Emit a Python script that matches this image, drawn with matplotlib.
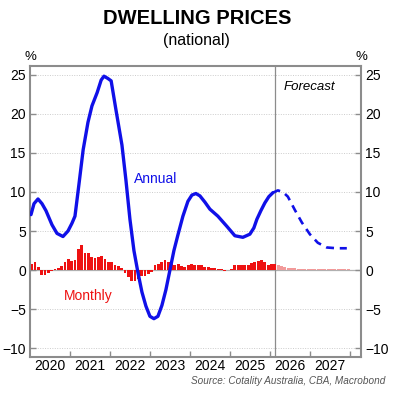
import numpy as np
import matplotlib
matplotlib.use("Agg")
import matplotlib.pyplot as plt

# annual growth, % (fractional year, value)
annual_x = [2020.025, 2020.1, 2020.2, 2020.3, 2020.4, 2020.55, 2020.675, 2020.825,
            2020.95, 2021.05, 2021.125, 2021.225, 2021.33, 2021.45, 2021.55, 2021.68,
            2021.78, 2021.85, 2021.95, 2022.03, 2022.15, 2022.3, 2022.4, 2022.5,
            2022.6, 2022.7, 2022.8, 2022.9, 2023.0, 2023.1, 2023.2, 2023.3, 2023.4,
            2023.5, 2023.6, 2023.7, 2023.825, 2023.95, 2024.05, 2024.15, 2024.25,
            2024.375, 2024.5, 2024.7, 2024.925, 2025.125, 2025.325, 2025.5, 2025.6,
            2025.675, 2025.775, 2025.875, 2025.975, 2026.075]
annual_y = [7.1, 8.5, 9.1, 8.5, 7.6, 5.8, 4.7, 4.3,
            5.0, 6.0, 6.9, 11.0, 15.4, 18.9, 21.0, 22.7,
            24.3, 24.8, 24.5, 24.2, 20.5, 16.0, 11.5, 6.5,
            2.5, -0.3, -2.8, -4.6, -5.9, -6.2, -5.9, -4.5, -2.5,
            0.0, 2.5, 4.5, 6.9, 8.8, 9.6, 9.8, 9.5,
            8.7, 7.8, 6.9, 5.6, 4.4, 4.2, 4.6, 5.4,
            6.5, 7.6, 8.6, 9.4, 9.9]

fc_x = [2026.075, 2026.2, 2026.325, 2026.45, 2026.625, 2026.8, 2027.0, 2027.2,
        2027.425, 2027.675, 2027.925]
fc_y = [9.9, 10.2, 10.0, 9.4, 7.7, 6.1, 4.6, 3.5, 2.9, 2.8, 2.8]

# monthly change, %, from Jan 2020
monthly = [0.85, 1.0, 0.35, -0.6, -0.6, -0.3, -0.1, 0.1, 0.3, 0.5, 1.1, 1.4,
           1.2, 1.3, 2.7, 3.2, 2.25, 2.2, 1.7, 1.6, 1.7, 1.8, 1.4, 1.1,
           1.0, 0.7, 0.55, 0.25, -0.3, -0.85, -1.4, -1.4, -1.15, -0.7, -0.7, -0.55,
           -0.25, 0.6, 0.85, 1.0, 1.3, 1.0, 0.85, 0.7, 0.85, 0.5, 0.4, 0.6,
           0.85, 0.7, 0.7, 0.6, 0.45, 0.45, 0.3, 0.3, 0.2, 0.1, -0.15, 0.05,
           0.2, 0.6, 0.7, 0.6, 0.7, 0.7, 0.9, 1.0, 1.15, 1.3, 1.05, 0.7,
           0.85, 0.85]
monthly_fc = [0.7, 0.55, 0.4, 0.3, 0.25, 0.25, 0.2, 0.2, 0.2, 0.2, 0.2,
              0.2, 0.2, 0.2, 0.2, 0.2, 0.2, 0.2, 0.2, 0.2, 0.2, 0.2]

years = [2020, 2021, 2022, 2023, 2024, 2025, 2026, 2027]
yticks = [-10, -5, 0, 5, 10, 15, 20, 25]
forecast_start = 2026.125

plt.rcParams["font.family"] = ["Liberation Sans", "DejaVu Sans"]

fig = plt.figure(figsize=(4, 4), dpi=100)
ax = fig.add_axes([0.075, 0.1075, 0.8275, 0.7275])

grey = "#8c8c8c"
for v in yticks:
    if v != 0:
        ax.axhline(v, color="#cccccc", lw=0.7, ls=(0, (1, 1.5)), zorder=0)
ax.axhline(0, color="#b0b0b0", lw=0.9, zorder=1)

mx = 2020 + (np.arange(len(monthly)) + 0.5) / 12
ax.bar(mx, monthly, width=0.85 / 12, color="#ee1111", zorder=2)
fx = 2020 + (np.arange(len(monthly_fc)) + len(monthly) + 0.5) / 12
ax.bar(fx, monthly_fc, width=0.85 / 12, color="#f29a9a", zorder=2)

ax.plot(annual_x, annual_y, color="#1010e8", lw=2.4, zorder=3, solid_capstyle="round")
ax.plot(fc_x, fc_y, color="#1010e8", lw=1.9, ls=(0, (3, 2.2)), zorder=3)

ax.axvline(forecast_start, color=grey, lw=0.9, zorder=1)

ax.set_xlim(2020.0, 2028.28)
ax.set_ylim(-11.1, 26.1)
ax.set_yticks(yticks)
ax.set_xticks(years[1:] + [2028])
ax.set_xticklabels([])
ax.tick_params(axis="x", direction="in", length=4, color=grey, width=1)
for y in years:
    ax.text(y + 0.5, -12.3, str(y), ha="center", va="center", fontsize=10)

ax.tick_params(axis="y", direction="in", length=4, color=grey, width=1,
               labelsize=10, left=True, right=True, labelleft=True, labelright=True, pad=3)
for s in ax.spines.values():
    s.set_color(grey)
    s.set_linewidth(1.5)

fig.text(0.4925, 0.955, "DWELLING PRICES", ha="center", va="center",
         fontsize=14.5, fontweight="bold")
fig.text(0.49, 0.9, "(national)", ha="center", va="center", fontsize=11.5)
fig.text(0.075, 0.843, "%", ha="center", va="bottom", fontsize=9.5)
fig.text(0.9025, 0.843, "%", ha="center", va="bottom", fontsize=9.5)

ax.text(2023.15, 11.7, "Annual", color="#1010e8", fontsize=10, ha="center", va="center")
ax.text(2021.45, -3.3, "Monthly", color="#ee1111", fontsize=10, ha="center", va="center")
ax.text(2027.0, 23.4, "Forecast", fontsize=9.5, style="italic", ha="center", va="center")

fig.text(0.9625, 0.047, "Source: Cotality Australia, CBA, Macrobond", ha="right", va="center",
         fontsize=7.2, style="italic", color="#555555")

fig.savefig("out.png", dpi=100)
